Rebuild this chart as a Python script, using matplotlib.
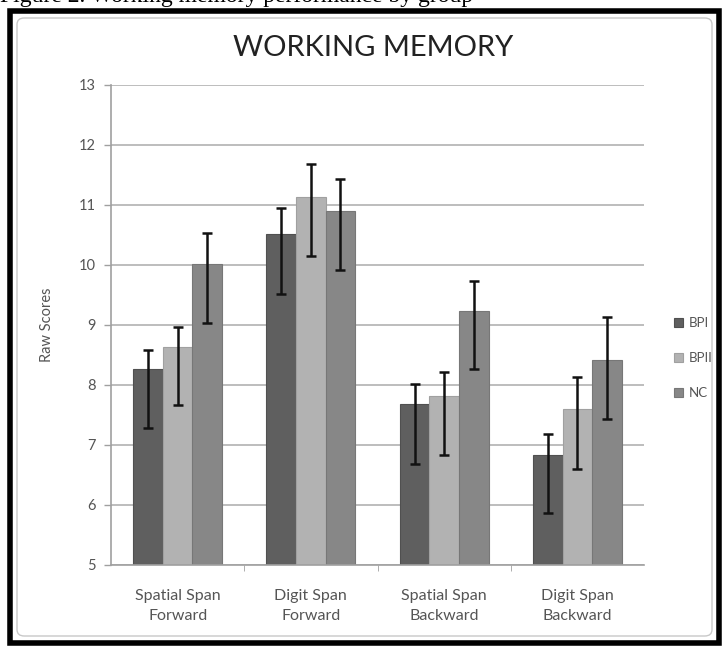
import numpy as np
import matplotlib.pyplot as plt
from matplotlib.patches import Rectangle, FancyBboxPatch

# data
categories = ['Spatial Span\nForward', 'Digit Span\nForward', 'Spatial Span\nBackward', 'Digit Span\nBackward']
groups = ['BPI', 'BPII', 'NC']
bpi_mean = [8.27, 10.51, 7.68, 6.84]
bpii_mean = [8.64, 11.13, 7.81, 7.60]
nc_mean = [10.02, 10.90, 9.24, 8.41]
# error bar ends (lower, upper)
bpi_low = [7.29, 9.52, 6.69, 5.86]
bpi_high = [8.58, 10.95, 8.01, 7.19]
bpii_low = [7.66, 10.15, 6.83, 6.60]
bpii_high = [8.97, 11.68, 8.21, 8.13]
nc_low = [9.03, 9.92, 8.27, 7.43]
nc_high = [10.53, 11.44, 9.73, 9.13]
yticks = [5, 6, 7, 8, 9, 10, 11, 12, 13]

means = [bpi_mean, bpii_mean, nc_mean]
lows = [bpi_low, bpii_low, nc_low]
highs = [bpi_high, bpii_high, nc_high]
colors = ['#5f5f5f', '#b2b2b2', '#878787']
edges = ['#505050', '#a0a0a0', '#777777']

plt.rcParams['font.family'] = ['Lato', 'DejaVu Sans']

fig = plt.figure(figsize=(7.27, 6.47), dpi=100)
W, H = 727, 647

# outer black frame and light chart-area border
fig.patches.append(Rectangle((10 / W, 1 - 643 / H), 709 / W, 632 / H, transform=fig.transFigure,
                             fill=False, edgecolor='black', linewidth=4))
fig.patches.append(FancyBboxPatch((17 / W, 1 - 636 / H), 695 / W, 618 / H, transform=fig.transFigure,
                                  boxstyle='round,pad=0,rounding_size=0.01', fill=False,
                                  edgecolor='#c8c8c8', linewidth=1))

# caption above the chart: only its lower edge is inside the picture
cap = fig.add_axes([0, 1 - 8 / H, 1, 8 / H])
cap.axis('off')
cap.text(0.0, 6 / 8, 'Figure 2. Working memory performance by group', family='Liberation Serif',
         fontsize=17, va='baseline', ha='left', color='black', transform=cap.transAxes, clip_on=True)

ax = fig.add_axes([111 / W, 1 - 565 / H, 533 / W, 480 / H])
x = np.arange(len(categories))
w = 1 / 4.5
for i, g in enumerate(groups):
    m = np.array(means[i])
    yerr = [m - np.array(lows[i]), np.array(highs[i]) - m]
    ax.bar(x + (i - 1) * w, m - 5, w, bottom=5, color=colors[i], edgecolor=edges[i],
           linewidth=0.8, label=g, zorder=2)
    ax.errorbar(x + (i - 1) * w, m, yerr=yerr, fmt='none', ecolor='#111111',
                elinewidth=1.8, capsize=3.5, capthick=1.8, zorder=3)

ax.set_xlim(-0.5, 3.5)
ax.set_ylim(5, 13)
ax.set_yticks(yticks)
ax.set_xticks(x)
ax.set_xticklabels(categories, fontsize=11.5, color='#555555', linespacing=1.55)
ax.tick_params(axis='y', labelsize=10.5, colors='#555555', length=5, width=1, color='#a0a0a0', pad=6)
ax.tick_params(axis='x', length=0, pad=17)
ax.set_xticks([0.5, 1.5, 2.5], minor=True)
ax.tick_params(axis='x', which='minor', length=4, color='#a0a0a0')
ax.yaxis.grid(True, color='#b8b8b8', linewidth=1.3, zorder=0)
ax.set_axisbelow(True)
for s in ['top', 'right']:
    ax.spines[s].set_visible(False)
for s in ['left', 'bottom']:
    ax.spines[s].set_color('#a0a0a0')
    ax.spines[s].set_linewidth(1.2)

ax.set_ylabel('Raw Scores', fontsize=10.5, color='#555555', labelpad=18)
fig.text(373 / W, 1 - 48 / H, 'WORKING MEMORY', fontsize=21, color='#222222', ha='center', va='center')

leg = ax.legend(loc='center left', bbox_to_anchor=(662 / W, 1 - 358 / H), bbox_transform=fig.transFigure,
                frameon=False, fontsize=9.5, labelspacing=1.75, handlelength=0.7, handleheight=0.7,
                handletextpad=0.45)
for t in leg.get_texts():
    t.set_color('#555555')

fig.savefig('out.png', dpi=100)
